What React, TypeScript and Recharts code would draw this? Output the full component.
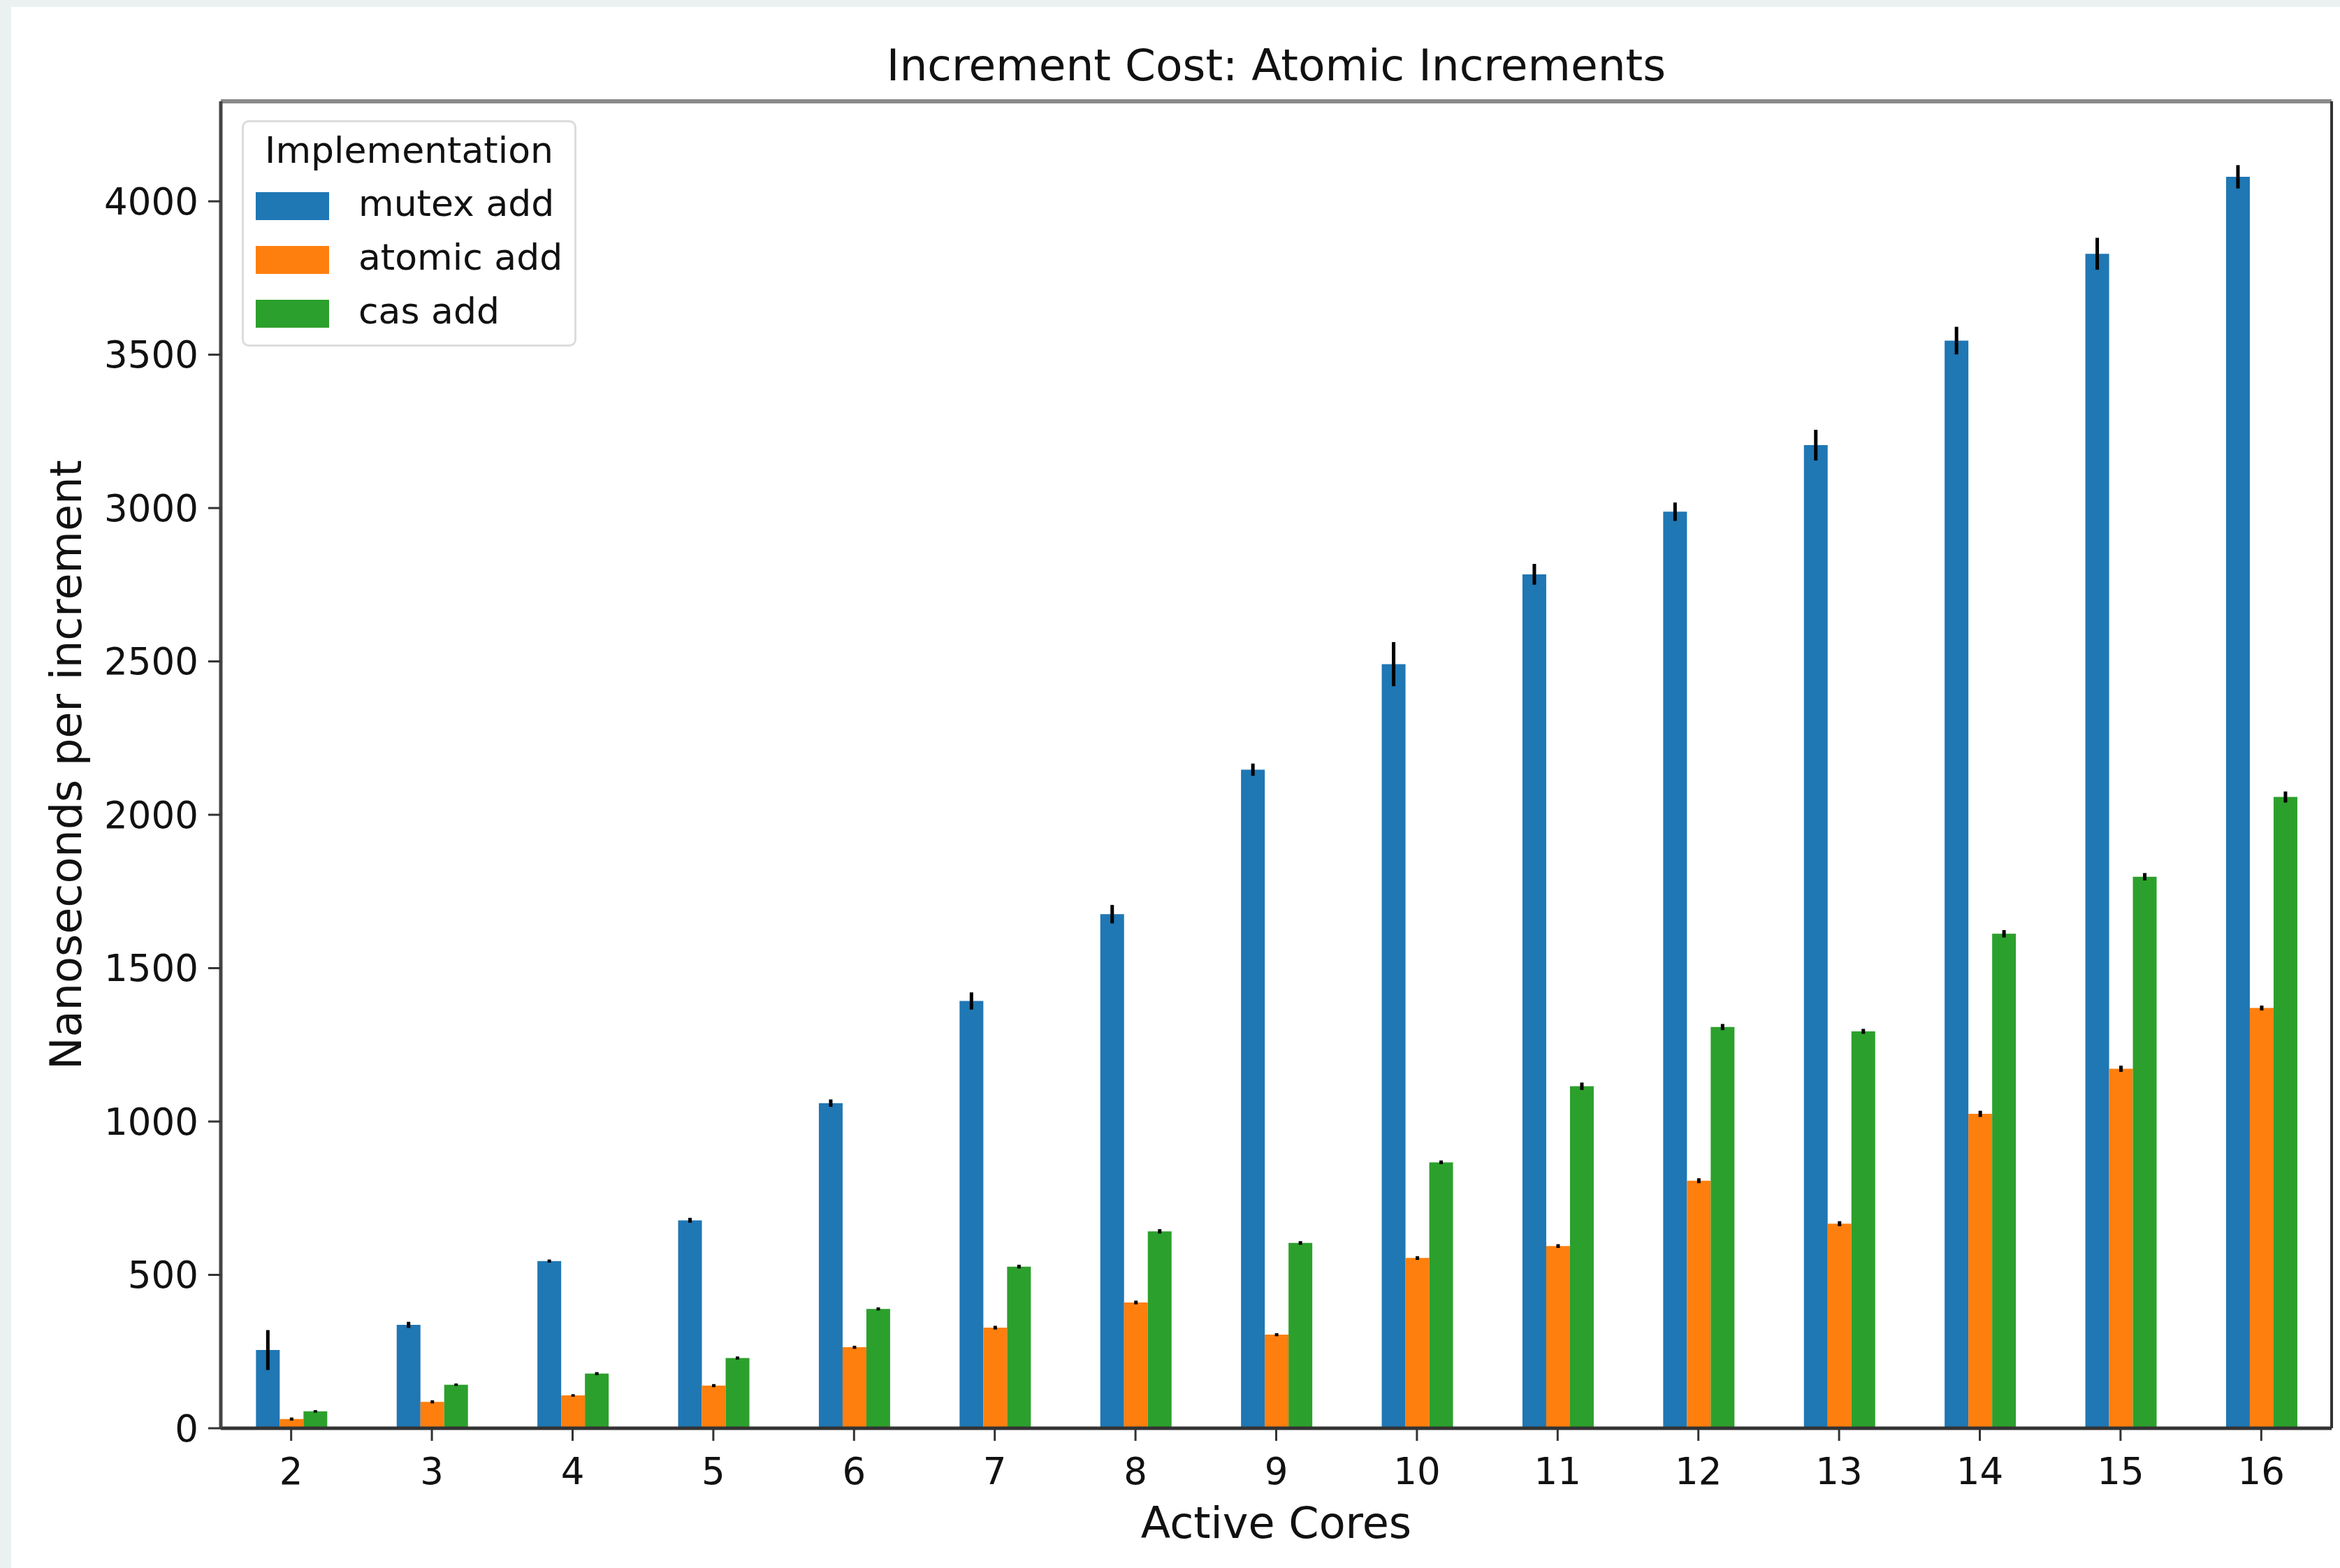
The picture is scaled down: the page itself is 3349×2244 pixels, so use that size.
import React from "react";
import { BarChart, Bar, XAxis, YAxis, ErrorBar } from "recharts";

const cores = ["2", "3", "4", "5", "6", "7", "8", "9", "10", "11", "12", "13", "14", "15", "16"];
const mutexAdd = [255, 337, 545, 678, 1060, 1393, 1676, 2147, 2491, 2784, 2988, 3205, 3546, 3829, 4080];
const mutexErr = [65, 10, 5, 8, 12, 28, 30, 20, 72, 34, 30, 50, 45, 52, 38];
const atomicAdd = [30, 86, 107, 139, 264, 328, 410, 305, 555, 594, 807, 667, 1025, 1172, 1370];
const atomicErr = [5, 5, 4, 5, 5, 6, 6, 5, 6, 6, 8, 8, 10, 10, 8];
const casAdd = [55, 142, 178, 229, 389, 527, 642, 604, 867, 1115, 1308, 1294, 1612, 1798, 2058];
const casErr = [4, 4, 5, 5, 5, 6, 7, 6, 6, 12, 10, 8, 12, 12, 18];
const yTicks = [0, 500, 1000, 1500, 2000, 2500, 3000, 3500, 4000];

const seriesNames = ["mutex add", "atomic add", "cas add"];
const seriesColors = ["#1f77b4", "#ff7f0e", "#2ca02c"];

const data = cores.map((c, i) => ({
  cores: c,
  mutex: mutexAdd[i],
  mutexErr: mutexErr[i],
  atomic: atomicAdd[i],
  atomicErr: atomicErr[i],
  cas: casAdd[i],
  casErr: casErr[i],
}));

const FONT = "'DejaVu Sans', sans-serif";

const renderYLabel = (props: any) => {
  const vb = props.viewBox;
  const x = vb.x + 78;
  const y = vb.y + vb.height / 2;
  return (
    <text
      x={x}
      y={y}
      textAnchor="middle"
      dominantBaseline="central"
      transform={`rotate(-90, ${x}, ${y})`}
      fontFamily={FONT}
      fontSize={62}
      fill="#111"
    >
      Nanoseconds per increment
    </text>
  );
};

const renderXLabel = (props: any) => {
  const vb = props.viewBox;
  return (
    <text
      x={vb.x + vb.width / 2}
      y={vb.y + 135}
      textAnchor="middle"
      dominantBaseline="central"
      fontFamily={FONT}
      fontSize={62}
      fill="#111"
    >
      Active Cores
    </text>
  );
};

export default function App() {
  return (
    <div
      style={{
        position: "absolute",
        left: 0,
        top: 0,
        width: 3349,
        height: 2244,
        background: "#ebf1f1",
        overflow: "hidden",
      }}
    >
      <div
        style={{
          position: "absolute",
          left: 16,
          top: 10,
          width: 3333,
          height: 2234,
          background: "#fff",
        }}
      >
        <div
          style={{
            position: "absolute",
            left: 300,
            width: 3021,
            top: 84 - 40,
            height: 80,
            lineHeight: "80px",
            textAlign: "center",
            fontFamily: FONT,
            fontSize: 63,
            color: "#111",
            whiteSpace: "nowrap",
          }}
        >
          Increment Cost: Atomic Increments
        </div>
        <BarChart
          width={3333}
          height={2234}
          data={data}
          margin={{ top: 134, right: 11, left: 0, bottom: 0 }}
          barGap={0}
          barCategoryGap="25%"
        >
          <XAxis
            dataKey="cores"
            height={200}
            tickSize={18}
            tickMargin={24}
            tick={{ fontSize: 53, fontFamily: FONT, fill: "#111" }}
            tickLine={{ stroke: "#333", strokeWidth: 3 }}
            axisLine={{ stroke: "#333", strokeWidth: 5 }}
            label={renderXLabel}
          />
          <XAxis
            xAxisId="top"
            dataKey="cores"
            orientation="top"
            height={1}
            tick={false}
            tickLine={false}
            axisLine={{ stroke: "#8a8a8a", strokeWidth: 6 }}
          />
          <YAxis
            width={300}
            domain={[0, 4326]}
            ticks={yTicks}
            allowDataOverflow
            tickSize={18}
            tickMargin={14}
            tick={{ fontSize: 53, fontFamily: FONT, fill: "#111" }}
            tickLine={{ stroke: "#333", strokeWidth: 3 }}
            axisLine={{ stroke: "#444", strokeWidth: 5 }}
            label={renderYLabel}
          />
          <YAxis
            yAxisId="right"
            orientation="right"
            width={1}
            domain={[0, 4326]}
            tick={false}
            tickLine={false}
            axisLine={{ stroke: "#333", strokeWidth: 4 }}
          />
          <Bar dataKey="mutex" name={seriesNames[0]} fill={seriesColors[0]} isAnimationActive={false}>
            <ErrorBar dataKey="mutexErr" width={0} stroke="#000" strokeWidth={5} direction="y" />
          </Bar>
          <Bar dataKey="atomic" name={seriesNames[1]} fill={seriesColors[1]} isAnimationActive={false}>
            <ErrorBar dataKey="atomicErr" width={0} stroke="#000" strokeWidth={5} direction="y" />
          </Bar>
          <Bar dataKey="cas" name={seriesNames[2]} fill={seriesColors[2]} isAnimationActive={false}>
            <ErrorBar dataKey="casErr" width={0} stroke="#000" strokeWidth={5} direction="y" />
          </Bar>
        </BarChart>

        <div
          style={{
            position: "absolute",
            left: 330,
            top: 162,
            width: 479,
            height: 324,
            boxSizing: "border-box",
            border: "3px solid #dcdcdc",
            borderRadius: 10,
            background: "rgba(255,255,255,0.85)",
            fontFamily: FONT,
            color: "#111",
          }}
        >
          <div
            style={{
              position: "absolute",
              left: 0,
              right: 0,
              top: 40 - 33,
              height: 66,
              lineHeight: "66px",
              textAlign: "center",
              fontSize: 52,
            }}
          >
            Implementation
          </div>
          {seriesNames.map((name, i) => (
            <div
              key={name}
              style={{
                position: "absolute",
                left: 0,
                top: 116 + i * 77 - 33,
                height: 66,
                width: "100%",
              }}
            >
              <div
                style={{
                  position: "absolute",
                  left: 17,
                  top: 17,
                  width: 105,
                  height: 40,
                  background: seriesColors[i],
                }}
              />
              <div
                style={{
                  position: "absolute",
                  left: 164,
                  top: 0,
                  lineHeight: "66px",
                  fontSize: 52,
                  whiteSpace: "nowrap",
                }}
              >
                {name}
              </div>
            </div>
          ))}
        </div>
      </div>
    </div>
  );
}
